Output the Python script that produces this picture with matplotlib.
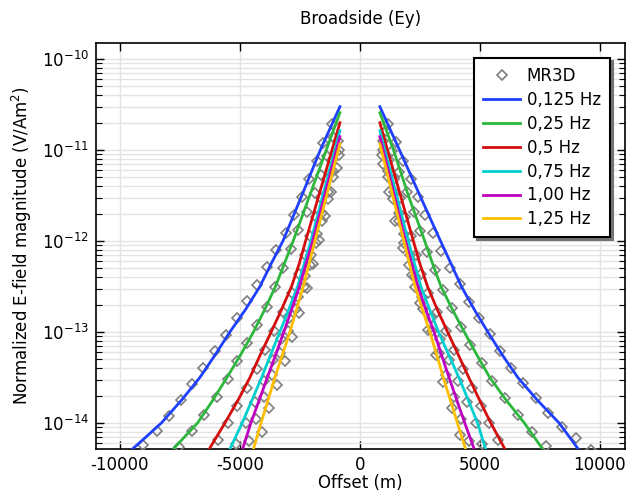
import numpy as np
import matplotlib
matplotlib.use("Agg")
import matplotlib.pyplot as plt
from matplotlib.ticker import FixedLocator, NullFormatter, NullLocator, LogFormatterSciNotation

plt.rcParams['font.family'] = ['DejaVu Sans']
plt.rcParams['axes.unicode_minus'] = False

# ---------------- data (offset in m, log10 of normalized E-field) ----------------
freq_labels = ['0,125 Hz', '0,25 Hz', '0,5 Hz', '0,75 Hz', '1,00 Hz', '1,25 Hz']
line_colors = ['#1f3fff', '#2db83d', '#d40d0d', '#00cfd0', '#c000c0', '#ffbf00']

# FE curves
blue_L_x = [-833, -1650, -2420, -3208, -3700, -4167, -4760, -5420, -6030, -6670, -7437, -8275, -8900, -9480]
blue_L_lg = [-10.524, -11.0, -11.5, -12.0, -12.25, -12.5, -12.75, -13.0, -13.25, -13.5, -13.75, -14.0, -14.15, -14.286]
blue_R_x = [833, 1650, 2500, 3360, 3800, 4230, 4760, 5333, 5930, 6583, 7400, 8304, 9100]
blue_R_lg = [-10.524, -11.0, -11.5, -12.0, -12.25, -12.5, -12.75, -13.0, -13.25, -13.5, -13.75, -14.0, -14.286]

green_L_x = [-833, -1400, -2092, -2783, -3150, -3521, -3960, -4438, -4970, -5542, -6130, -6767, -7779]
green_R_x = [833, 1400, 2020, 2700, 3030, 3380, 3850, 4350, 4870, 5413, 6100, 6854, 7613]
green_lg = [-10.59, -11.0, -11.5, -12.0, -12.25, -12.5, -12.75, -13.0, -13.25, -13.5, -13.75, -14.0, -14.286]

red_L_x = [-833, -1163, -1712, -2263, -2530, -2850, -3260, -3700, -4150, -4583, -5080, -5625, -6279]
red_R_x = [833, 1150, 1692, 2229, 2500, 2820, 3220, 3654, 4100, 4538, 4990, 5454, 6042]
red_lg = [-10.70, -11.0, -11.5, -12.0, -12.25, -12.5, -12.75, -13.0, -13.25, -13.5, -13.75, -14.0, -14.286]

cyan_L_x = [-833, -1546, -2042, -2600, -2960, -3338, -3720, -4096, -4500, -4908, -5417]
cyan_R_x = [833, 1528, 2017, 2540, 2900, 3279, 3700, 4125, 4520, 4904, 5238]
cyan_lg = [-10.788, -11.5, -12.0, -12.5, -12.75, -13.0, -13.25, -13.5, -13.75, -14.0, -14.286]

mag_L_x = [-833, -1471, -1967, -2520, -2840, -3171, -3510, -3858, -4200, -4546, -4888]
mag_R_x = [833, 1433, 1900, 2420, 2740, 3092, 3400, 3717, 4040, 4371, 4763]
mag_lg = [-10.854, -11.5, -12.0, -12.5, -12.75, -13.0, -13.25, -13.5, -13.75, -14.0, -14.286]

yel_L_x = [-833, -1388, -1875, -2363, -2640, -2917, -3230, -3542, -3830, -4121, -4437]
yel_R_x = [833, 1367, 1833, 2300, 2600, 2917, 3200, 3475, 3770, 4063, 4404]
yel_lg = [-10.934, -11.5, -12.0, -12.5, -12.75, -13.0, -13.25, -13.5, -13.75, -14.0, -14.286]

# MR3D markers
mr_blue_L_x = [-1179, -1529, -1804, -2113, -2429, -2738, -3083, -3500, -3888, -4304, -4721, -5138, -5583, -6042, -6529, -7013, -7458, -7946, -8471, -9029]
mr_blue_L_lg = [-10.714, -10.920, -11.121, -11.319, -11.520, -11.714, -11.909, -12.099, -12.291, -12.480, -12.654, -12.849, -13.033, -13.209, -13.392, -13.571, -13.747, -13.920, -14.088, -14.242]
mr_blue_R_x = [1179, 1500, 1804, 2113, 2404, 2708, 3054, 3375, 3750, 4167, 4554, 4971, 5417, 5833, 6279, 6804, 7321, 7846, 8417, 9000, 9625]
mr_blue_R_lg = [-10.714, -10.915, -11.118, -11.319, -11.520, -11.714, -11.915, -12.107, -12.300, -12.473, -12.667, -12.849, -13.025, -13.209, -13.392, -13.557, -13.722, -13.887, -14.041, -14.168, -14.297]

mr_green_L_x = [-1104, -1354, -1604, -1875, -2221, -2571, -2875, -3196, -3542, -3888, -4279, -4696, -5113, -5513, -5971, -6479, -7013, -7542]
mr_green_L_lg = [-10.857, -11.066, -11.275, -11.476, -11.678, -11.879, -12.088, -12.300, -12.502, -12.722, -12.923, -13.124, -13.319, -13.520, -13.711, -13.907, -14.088, -14.260]
mr_green_R_x = [1083, 1354, 1646, 1946, 2263, 2500, 2779, 3125, 3471, 3821, 4196, 4583, 5071, 5488, 6042, 6596, 7154, 7750]
mr_green_R_lg = [-10.791, -11.011, -11.242, -11.465, -11.678, -11.890, -12.118, -12.319, -12.538, -12.740, -12.948, -13.143, -13.344, -13.535, -13.729, -13.912, -14.096, -14.253]

mr_red_L_x = [-929, -1158, -1388, -1617, -1846, -2075, -2304, -2538, -2817, -3200, -3583, -3942, -4300, -4700, -5113, -5500, -5929]
mr_red_R_x = [983, 1213, 1438, 1663, 1888, 2113, 2338, 2563, 2833, 3204, 3571, 3942, 4308, 4688, 5050, 5392, 5775]
mr_red_lg = [-10.901, -11.110, -11.319, -11.527, -11.736, -11.945, -12.154, -12.363, -12.571, -12.780, -12.989, -13.198, -13.407, -13.615, -13.813, -14.0, -14.187]

mr_cyan_L_x = [-879, -1108, -1338, -1571, -1800, -2042, -2288, -2588, -2938, -3288, -3638, -3992, -4367, -4742, -5154]
mr_cyan_R_x = [958, 1179, 1404, 1629, 1854, 2079, 2304, 2596, 2954, 3325, 3717, 4100, 4463, 4821, 5092]
mr_cyan_lg = [-11.0, -11.231, -11.462, -11.692, -11.923, -12.154, -12.385, -12.615, -12.846, -13.077, -13.308, -13.538, -13.769, -14.0, -14.231]

mr_mag_L_x = [-867, -1108, -1350, -1592, -1833, -2075, -2321, -2654, -2988, -3321, -3654, -3988, -4317, -4617]
mr_mag_R_x = [938, 1163, 1388, 1613, 1838, 2063, 2288, 2642, 2992, 3296, 3600, 3913, 4229, 4558]
mr_mag_lg = [-11.055, -11.297, -11.538, -11.780, -12.022, -12.264, -12.505, -12.747, -12.989, -13.231, -13.473, -13.714, -13.956, -14.198]

mr_yel_L_x = [-958, -1208, -1458, -1708, -1967, -2221, -2529, -2846, -3125, -3446, -3779, -4096]
mr_yel_L_lg = [-11.198, -11.462, -11.725, -11.989, -12.253, -12.520, -12.795, -13.052, -13.319, -13.582, -13.838, -14.102]
mr_yel_R_x = [979, 1229, 1479, 1804, 2154, 2500, 2846, 3167, 3446, 3821, 4167]
mr_yel_R_lg = [-11.154, -11.462, -11.780, -12.080, -12.374, -12.685, -12.978, -13.253, -13.546, -13.838, -14.132]

x_ticks = [-10000, -5000, 0, 5000, 10000]
y_major = [1e-14, 1e-13, 1e-12, 1e-11, 1e-10]

# ---------------- figure ----------------
fig = plt.figure(figsize=(6.27, 4.91), dpi=100)
ax = fig.add_axes([96 / 627, 42 / 491, 529 / 627, 406 / 491])
ax.set_yscale('log')

def E(lg):
    return np.power(10.0, np.asarray(lg, dtype=float))

mr_sets = [
    (mr_blue_L_x, mr_blue_L_lg), (mr_blue_R_x, mr_blue_R_lg),
    (mr_green_L_x, mr_green_L_lg), (mr_green_R_x, mr_green_R_lg),
    (mr_red_L_x, mr_red_lg), (mr_red_R_x, mr_red_lg),
    (mr_cyan_L_x, mr_cyan_lg), (mr_cyan_R_x, mr_cyan_lg),
    (mr_mag_L_x, mr_mag_lg), (mr_mag_R_x, mr_mag_lg),
    (mr_yel_L_x, mr_yel_L_lg), (mr_yel_R_x, mr_yel_R_lg),
]
mk_style = dict(ls='none', marker='D', markersize=5, markerfacecolor='none',
                markeredgecolor='#7f7f7f', markeredgewidth=1.2, zorder=3)
for i, (xs, lg) in enumerate(mr_sets):
    ax.plot(xs, E(lg), label='MR3D' if i == 0 else None, **mk_style)

fe_sets = [
    (blue_L_x, blue_L_lg, blue_R_x, blue_R_lg),
    (green_L_x, green_lg, green_R_x, green_lg),
    (red_L_x, red_lg, red_R_x, red_lg),
    (cyan_L_x, cyan_lg, cyan_R_x, cyan_lg),
    (mag_L_x, mag_lg, mag_R_x, mag_lg),
    (yel_L_x, yel_lg, yel_R_x, yel_lg),
]
for (lx, llg, rx, rlg), c, lab in zip(fe_sets, line_colors, freq_labels):
    ax.plot(lx, E(llg), color=c, lw=2.0, label=lab, zorder=4)
    ax.plot(rx, E(rlg), color=c, lw=2.0, zorder=4)

ax.set_xlim(-11000, 11050)
ax.set_ylim(10 ** -14.286, 10 ** -9.824)

ax.xaxis.set_major_locator(FixedLocator(x_ticks))
ax.xaxis.set_minor_locator(NullLocator())
ax.yaxis.set_major_locator(FixedLocator(y_major))
ax.yaxis.set_major_formatter(LogFormatterSciNotation())
y_minor = [m * d for d in [1e-15, 1e-14, 1e-13, 1e-12, 1e-11, 1e-10] for m in range(2, 10)
           if 10 ** -14.286 < m * d < 10 ** -9.824]
ax.yaxis.set_minor_locator(FixedLocator(y_minor))
ax.yaxis.set_minor_formatter(NullFormatter())

ax.tick_params(which='both', direction='in', top=True, right=True, labelsize=12, colors='black')
ax.tick_params(which='major', length=6, width=1, pad=5)
ax.tick_params(which='minor', length=4, width=0.8)

ax.grid(True, which='major', color='#e4e4e4', lw=1.0, zorder=0)
ax.grid(True, which='minor', axis='y', color='#e4e4e4', lw=1.0, zorder=0)
ax.set_axisbelow(True)
for s in ax.spines.values():
    s.set_linewidth(1.2)

ax.set_xlabel('Offset (m)', fontsize=12, labelpad=0)
ax.set_ylabel('Normalized E-field magnitude (V/Am$^2$)', fontsize=12, labelpad=6)
ax.set_title('Broadside (Ey)', fontsize=12, pad=14)

leg = ax.legend(loc='upper right', bbox_to_anchor=(0.9716, 0.963), borderaxespad=0,
                fontsize=12, frameon=True, fancybox=False, framealpha=1,
                edgecolor='black', shadow={'color': '0.45', 'alpha': 1},
                handlelength=2.2, handletextpad=0.4, labelspacing=0.35, borderpad=0.55)
leg.get_frame().set_linewidth(1.5)
leg.set_zorder(10)

fig.savefig('out.png', dpi=100)
